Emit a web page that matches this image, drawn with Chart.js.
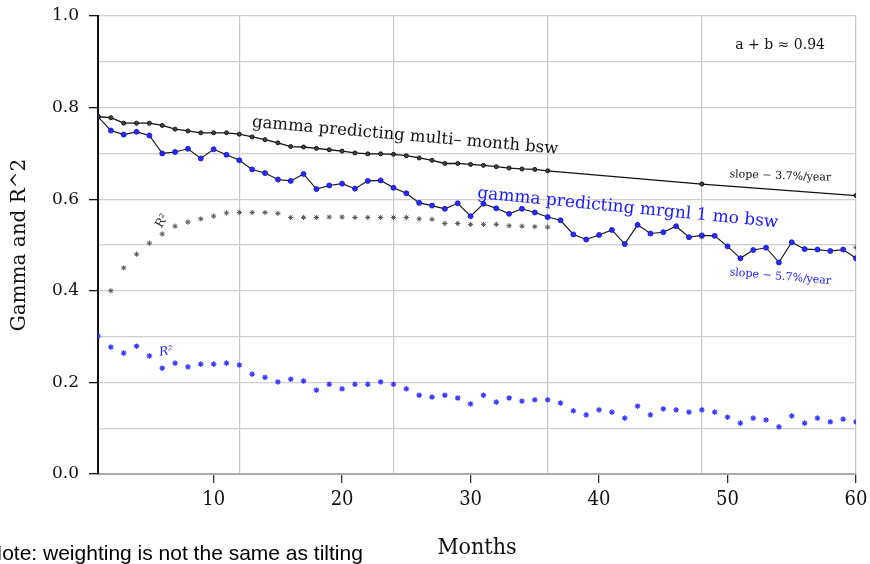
<!DOCTYPE html>
<html>
<head>
<meta charset="utf-8">
<script src="https://cdn.jsdelivr.net/npm/chart.js@4/dist/chart.umd.min.js"></script>
<style>
  html, body { margin: 0; padding: 0; background: #fff; }
  #wrap { width: 870px; height: 564px; }
</style>
</head>
<body>
<div id="wrap"><canvas id="gammaChart" width="870" height="564"></canvas></div>
<script>
// months for each series
const multiMonths = [1,2,3,4,5,6,7,8,9,10,11,12,13,14,15,16,17,18,19,20,21,22,23,24,25,26,27,28,29,30,31,32,33,34,35,36,48,60];
const multiGamma = [0.780,0.778,0.766,0.766,0.766,0.761,0.753,0.749,0.745,0.745,0.745,0.742,0.736,0.730,0.723,0.715,0.714,0.711,0.708,0.705,
                    0.701,0.699,0.699,0.698,0.695,0.690,0.685,0.678,0.678,0.676,0.674,0.671,0.668,0.666,0.665,0.662,0.633,0.608];

const mrgnlMonths = Array.from({length: 60}, (_, i) => i + 1);
const mrgnlGamma = [0.780,0.750,0.741,0.747,0.739,0.700,0.703,0.710,0.689,0.709,0.697,0.685,0.665,0.657,0.643,0.640,0.655,0.622,0.630,0.634,
                    0.623,0.640,0.641,0.625,0.613,0.592,0.586,0.579,0.591,0.563,0.590,0.580,0.568,0.579,0.571,0.561,0.554,0.523,0.512,0.522,
                    0.533,0.502,0.544,0.525,0.528,0.541,0.517,0.521,0.520,0.497,0.471,0.489,0.494,0.462,0.506,0.491,0.490,0.487,0.490,0.471];

const multiR2Months = [2,3,4,5,6,7,8,9,10,11,12,13,14,15,16,17,18,19,20,21,22,23,24,25,26,27,28,29,30,31,32,33,34,35,36,48,60];
const multiR2 = [0.400,0.450,0.480,0.504,0.524,0.541,0.550,0.557,0.563,0.570,0.571,0.571,0.571,0.569,0.560,0.560,0.560,0.561,0.561,
                 0.560,0.560,0.560,0.560,0.560,0.557,0.556,0.547,0.547,0.545,0.545,0.545,0.542,0.541,0.540,0.539,0.518,0.495];

const mrgnlR2 = [0.301,0.277,0.264,0.279,0.258,0.231,0.242,0.234,0.240,0.240,0.242,0.238,0.218,0.211,0.201,0.207,0.203,0.183,0.196,0.186,
                 0.196,0.196,0.201,0.196,0.186,0.172,0.168,0.172,0.166,0.153,0.172,0.157,0.166,0.159,0.162,0.162,0.155,0.138,0.129,0.140,
                 0.135,0.122,0.148,0.129,0.142,0.140,0.135,0.140,0.135,0.124,0.111,0.122,0.118,0.103,0.127,0.111,0.122,0.114,0.120,0.114];

const xTickValues = [10, 20, 30, 40, 50, 60];
const xGridValues = [12, 24, 36, 48, 60];
const yTickValues = [0, 0.2, 0.4, 0.6, 0.8, 1.0];
const yGridValues = [0, 0.1, 0.2, 0.3, 0.4, 0.5, 0.6, 0.7, 0.8, 0.9, 1.0];

const SERIF = '"DejaVu Serif", serif';
const SERIF_C = '"DejaVu Serif Condensed", "DejaVu Serif", serif';

function pairs(xs, ys) {
    return xs.map((x, i) => ({x: x, y: ys[i]}));
}

// fixed axis box sizes, no extra label padding
function fixBox(s, w, h) {
    if (w !== null) s.width = w;
    if (h !== null) s.height = h;
    s.paddingTop = 0; s.paddingBottom = 0; s.paddingLeft = 0; s.paddingRight = 0;
}

// text annotations, placed in data coordinates
const notes = [
    {text: 'gamma predicting multi\u2013 month bsw', x: 12.97, y: 0.758, rot: 5.0, size: 16.5, color: '#111', italic: false},
    {text: 'gamma predicting mrgnl 1 mo bsw', x: 30.5, y: 0.603, rot: 5.6, size: 17, color: '#1a1aff', italic: false},
    {text: 'slope \u2212 3.7%/year', x: 50.15, y: 0.648, rot: 2.0, size: 11, color: '#111', italic: false},
    {text: 'slope \u2212 5.7%/year', x: 50.15, y: 0.434, rot: 5.0, size: 11, color: '#1a1aff', italic: false},
    {text: 'R\u00b2', x: 5.95, y: 0.536, rot: -60, size: 12, color: '#333', italic: false},
    {text: 'R\u00b2', x: 5.8, y: 0.258, rot: -8, size: 12, color: '#1a1aff', italic: true},
    {text: 'a + b \u2248 0.94', x: 50.6, y: 0.928, rot: 0, size: 14, color: '#111', italic: false}
];

const textPlugin = {
    id: 'textPlugin',
    afterDraw(chart) {
        const ctx = chart.ctx;
        const xs = chart.scales.x, ys = chart.scales.y;
        const area = chart.chartArea;
        ctx.save();
        notes.forEach(n => {
            ctx.save();
            ctx.translate(xs.getPixelForValue(n.x), ys.getPixelForValue(n.y));
            ctx.rotate(n.rot * Math.PI / 180);
            ctx.font = (n.italic ? 'italic ' : '') + n.size + 'px ' + SERIF;
            ctx.fillStyle = n.color;
            ctx.textBaseline = 'alphabetic';
            ctx.textAlign = 'left';
            ctx.fillText(n.text, 0, 0);
            ctx.restore();
        });
        // axis titles
        ctx.fillStyle = '#111';
        ctx.font = '23px ' + SERIF_C;
        ctx.textAlign = 'center';
        ctx.textBaseline = 'middle';
        ctx.fillText('Months', (area.left + area.right) / 2, 548);
        ctx.save();
        ctx.translate(20, (area.top + area.bottom) / 2);
        ctx.rotate(-Math.PI / 2);
        ctx.font = '20px ' + SERIF;
        ctx.fillText('Gamma and R^2', 0, 0);
        ctx.restore();
        // footnote
        ctx.font = '21px "Liberation Sans", Arial, sans-serif';
        ctx.textAlign = 'left';
        ctx.textBaseline = 'alphabetic';
        ctx.fillStyle = '#000';
        ctx.fillText('Note: weighting is not the same as tilting', -13, 560);
        ctx.restore();
    }
};

new Chart(document.getElementById('gammaChart'), {
    type: 'line',
    data: {
        datasets: [
            {
                label: 'multi-month gamma',
                data: pairs(multiMonths, multiGamma),
                borderColor: '#111',
                borderWidth: 1.3,
                pointRadius: 2,
                pointBackgroundColor: '#444',
                pointBorderColor: '#111',
                pointBorderWidth: 1,
                tension: 0
            },
            {
                label: 'mrgnl gamma',
                data: pairs(mrgnlMonths, mrgnlGamma),
                borderColor: '#111',
                borderWidth: 1.1,
                pointRadius: 2.5,
                pointBackgroundColor: '#2b2bff',
                pointBorderColor: '#1010c0',
                pointBorderWidth: 0.8,
                tension: 0
            },
            {
                label: 'multi R2',
                data: pairs(multiR2Months, multiR2),
                showLine: false,
                pointStyle: 'star',
                pointRadius: 2.6,
                pointBorderColor: '#555',
                pointBorderWidth: 1,
                borderColor: '#555'
            },
            {
                label: 'mrgnl R2',
                data: pairs(mrgnlMonths, mrgnlR2),
                showLine: false,
                pointStyle: 'star',
                pointRadius: 2.8,
                pointBorderColor: '#3a3aff',
                pointBorderWidth: 1.2,
                borderColor: '#3a3aff'
            }
        ]
    },
    options: {
        responsive: false,
        animation: false,
        layout: { padding: { top: 16, right: 14, left: 0, bottom: 0 } },
        plugins: {
            legend: { display: false },
            tooltip: { enabled: false }
        },
        scales: {
            xGrid: {
                type: 'linear', position: 'bottom', min: 1, max: 60,
                afterBuildTicks: s => { s.ticks = xGridValues.map(v => ({value: v})); },
                afterFit: s => fixBox(s, null, 0),
                grid: { color: '#c8c8c8', lineWidth: 1.2, drawTicks: false },
                border: { display: false },
                ticks: { display: false }
            },
            yGrid: {
                type: 'linear', position: 'left', min: 0, max: 1,
                afterBuildTicks: s => { s.ticks = yGridValues.map(v => ({value: v})); },
                afterFit: s => fixBox(s, 0, null),
                grid: { color: '#cfcfcf', lineWidth: 1.2, drawTicks: false },
                border: { display: false },
                ticks: { display: false }
            },
            x: {
                type: 'linear', position: 'bottom', min: 1, max: 60,
                afterBuildTicks: s => { s.ticks = xTickValues.map(v => ({value: v})); },
                afterFit: s => fixBox(s, null, 90),
                grid: { drawOnChartArea: false, color: '#333', tickLength: 9, lineWidth: 1.3 },
                border: { color: '#aaa', width: 2 },
                ticks: {
                    color: '#111', padding: 5, maxRotation: 0,
                    font: { family: SERIF_C, size: 20 },
                    callback: v => String(v)
                }
            },
            y: {
                type: 'linear', position: 'left', min: 0, max: 1,
                afterBuildTicks: s => { s.ticks = yTickValues.map(v => ({value: v})); },
                afterFit: s => fixBox(s, 98, null),
                grid: { drawOnChartArea: false, color: '#111', tickLength: 9, lineWidth: 1.3 },
                border: { color: '#111', width: 2 },
                ticks: {
                    color: '#111', padding: 10,
                    font: { family: SERIF, size: 17 },
                    callback: v => v.toFixed(1)
                }
            }
        }
    },
    plugins: [textPlugin]
});
</script>
</body>
</html>
